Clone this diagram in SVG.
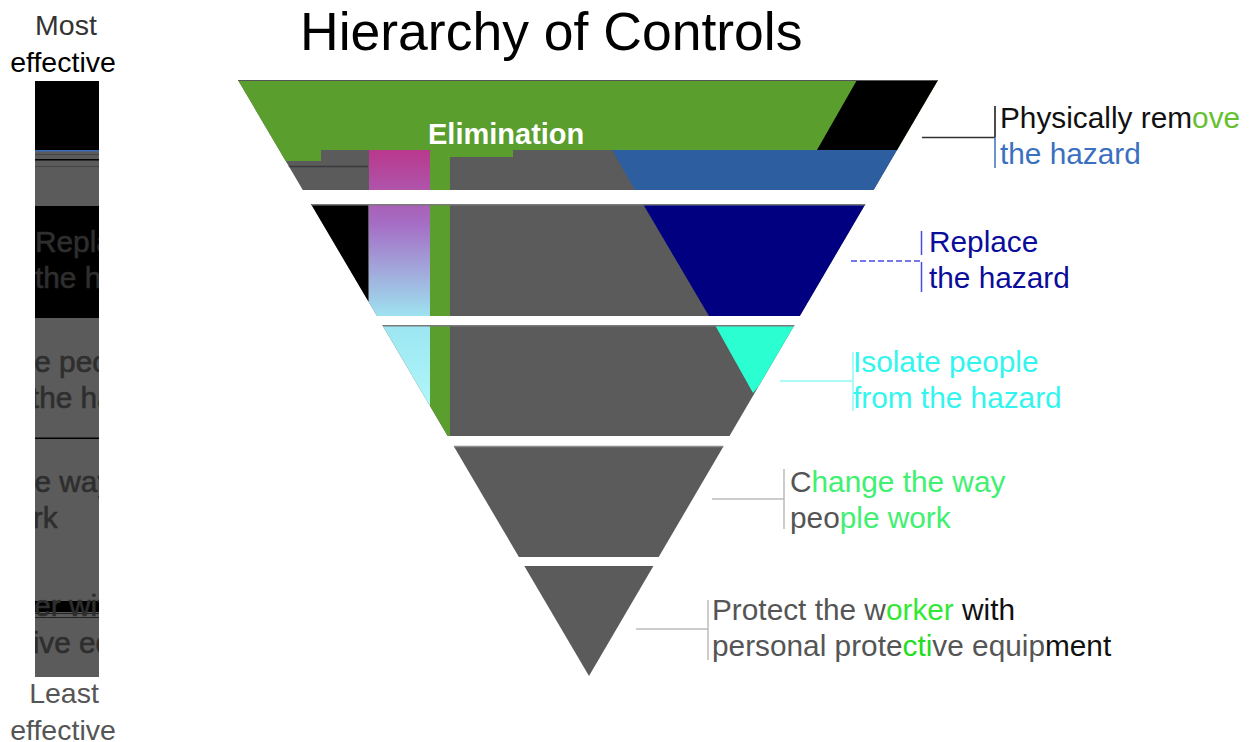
<svg xmlns="http://www.w3.org/2000/svg" width="1250" height="742" viewBox="0 0 1250 742">
<style>
.t{font-family:"Liberation Sans",Arial,sans-serif;font-size:29.8px}
.g{fill:#5b5b5b}
.gr{fill:#5a9e2e}
.ln{fill:none;stroke-width:1.5}
</style>
<defs>
<linearGradient id="pink" gradientUnits="userSpaceOnUse" x1="0" y1="150" x2="0" y2="316">
<stop offset="0" stop-color="#b9388c"/><stop offset="0.45" stop-color="#a56ec6"/><stop offset="1" stop-color="#9ee2f0"/>
</linearGradient>
<linearGradient id="cyan" gradientUnits="userSpaceOnUse" x1="0" y1="325" x2="0" y2="436">
<stop offset="0" stop-color="#9ce6f2"/><stop offset="1" stop-color="#b8fdfd"/>
</linearGradient>
<clipPath id="c1"><polygon points="238,80 938,80 873.6,190 302.8,190"/></clipPath>
<clipPath id="c2"><polygon points="311,204 865.4,204 799.8,316 377,316"/></clipPath>
<clipPath id="c3"><polygon points="382.3,325 794.5,325 729.5,436 447.7,436"/></clipPath>
<clipPath id="cb"><rect x="35" y="81" width="64" height="596"/></clipPath>
</defs>

<g id="title"><text class="t" x="300" y="50" style="font-size:53.5px" fill="#000">Hierarchy of Controls</text></g>

<g id="scale">
<text class="t" x="66" y="35" text-anchor="middle" style="font-size:28.5px" fill="#333">Most</text>
<text class="t" x="63" y="72" text-anchor="middle" style="font-size:28.5px" fill="#000">effective</text>
<g clip-path="url(#cb)">
<rect x="35" y="81" width="64" height="596" class="g"/>
<rect x="35" y="81" width="64" height="69" fill="#000"/>
<rect x="35" y="150" width="64" height="1.5" fill="#3a6ab8"/>
<rect x="35" y="154" width="64" height="1" fill="#444"/>
<rect x="35" y="159" width="64" height="1.5" fill="#000"/>
<rect x="35" y="166" width="64" height="1" fill="#444"/>
<rect x="35" y="206" width="64" height="112" fill="#000"/>
<rect x="35" y="437.5" width="64" height="1.5" fill="#000"/>
<rect x="35" y="601" width="64" height="11" fill="#000"/>
<rect x="35" y="613" width="64" height="1" fill="#222"/>
<rect x="35" y="617" width="64" height="1" fill="#222"/>
<g fill="#2e2e2e" stroke="#2e2e2e" stroke-width="0.6">
<text class="t" x="35" y="252">Replace</text>
<text class="t" x="35" y="288">the hazard</text>
<text class="t" x="-37" y="372">Isolate people</text>
<text class="t" x="-37" y="408">from the hazard</text>
<text class="t" x="-103" y="492">Change the way</text>
<text class="t" x="-103" y="528">people work</text>
<text class="t" x="-181" y="616">Protect the worker with</text>
<text class="t" x="-181" y="653">personal protective equipment</text>
</g>
</g>
<text class="t" x="64" y="703" text-anchor="middle" style="font-size:28.5px" fill="#555">Least</text>
<text class="t" x="63" y="740" text-anchor="middle" style="font-size:28.5px" fill="#555">effective</text>
</g>

<g id="elimination">
<g clip-path="url(#c1)">
<rect x="230" y="80" width="720" height="110" class="g"/>
<rect x="230" y="80" width="720" height="70" class="gr"/>
<rect x="230" y="150" width="91" height="11" class="gr"/>
<rect x="450" y="150" width="63" height="7" class="gr"/>
<line x1="230" y1="166.5" x2="368" y2="166.5" stroke="#3a3a3a" stroke-width="1.5"/>
<polygon points="857,80 950,80 950,150 817,150" fill="#000"/>
<polygon points="612,150 950,150 950,190 635,190" fill="#2d5ea0"/>
<rect x="369" y="150" width="61" height="40" fill="url(#pink)"/>
<rect x="430" y="150" width="20" height="40" class="gr"/>
<rect x="230" y="79" width="720" height="2" fill="#555"/>
</g>
<text class="t" x="428" y="144" style="font-size:29px;font-weight:bold" fill="#fff">Elimination</text>
</g>

<g id="substitution" clip-path="url(#c2)">
<rect x="300" y="204" width="570" height="112" class="g"/>
<rect x="300" y="204" width="68" height="112" fill="#000"/>
<rect x="369" y="204" width="61" height="112" fill="url(#pink)"/>
<rect x="430" y="204" width="20" height="112" class="gr"/>
<polygon points="643,204 900,204 900,316 709,316" fill="#000080"/>
<rect x="300" y="204" width="570" height="1.5" fill="#7a7a7a"/>
</g>

<g id="engineering" clip-path="url(#c3)">
<rect x="380" y="325" width="420" height="111" class="g"/>
<rect x="370" y="325" width="60" height="111" fill="url(#cyan)"/>
<rect x="430" y="325" width="20" height="111" class="gr"/>
<polygon points="715,325 810,325 753,393" fill="#2bffd2"/>
<rect x="380" y="325" width="420" height="1.5" fill="#7a7a7a"/>
</g>

<g id="administrative">
<polygon points="453.6,446 723.7,446 658.7,557 518.9,557" class="g"/>
<line x1="454" y1="446.5" x2="723" y2="446.5" stroke="#8a8a8a" stroke-width="1.5"/>
</g>

<g id="ppe">
<polygon points="524.3,566 653.4,566 589,676" class="g"/>
</g>

<g id="connectors">
<line class="ln" x1="922" y1="137.5" x2="995" y2="137.5" stroke="#333"/>
<line class="ln" x1="995" y1="106" x2="995" y2="137.5" stroke="#111"/>
<line class="ln" x1="995" y1="137.5" x2="995" y2="168" stroke="#3a70bf"/>
<line class="ln" x1="851" y1="261" x2="921" y2="261" stroke="#4a4ce0" stroke-dasharray="6 3"/>
<line class="ln" x1="921.5" y1="231" x2="921.5" y2="255" stroke="#4a4ce0"/>
<line class="ln" x1="921.5" y1="262" x2="921.5" y2="292" stroke="#4a4ce0"/>
<line class="ln" x1="780" y1="381" x2="853" y2="381" stroke="#90fafa"/>
<line class="ln" x1="853" y1="352" x2="853" y2="411" stroke="#90fafa"/>
<line class="ln" x1="712" y1="499" x2="784" y2="499" stroke="#bbb"/>
<line class="ln" x1="784" y1="469" x2="784" y2="529" stroke="#bbb"/>
<line class="ln" x1="636" y1="629" x2="708" y2="629" stroke="#bbb"/>
<line class="ln" x1="708" y1="600" x2="708" y2="660" stroke="#bbb"/>
</g>

<g id="label-elimination">
<text class="t" x="1000" y="128" fill="#111">Physically rem<tspan fill="#66c030">ove</tspan></text>
<text class="t" x="1000" y="164" fill="#3a70bf">the hazard</text>
</g>
<g id="label-substitution" fill="#0c0c9a">
<text class="t" x="929" y="252">Replace</text>
<text class="t" x="929" y="288">the hazard</text>
</g>
<g id="label-engineering" fill="#33f5ee">
<text class="t" x="853" y="372">Isolate people</text>
<text class="t" x="853" y="408">from the hazard</text>
</g>
<g id="label-administrative">
<text class="t" x="790" y="492" fill="#555">C<tspan fill="#40f070">hange the way</tspan></text>
<text class="t" x="790" y="528" fill="#555">peo<tspan fill="#40f070">ple work</tspan></text>
</g>
<g id="label-ppe">
<text class="t" x="712" y="620" fill="#555">Protect the w<tspan fill="#33e833">orker</tspan><tspan fill="#111"> with</tspan></text>
<text class="t" x="712" y="656" fill="#555">personal prote<tspan fill="#22dd22">cti</tspan>ve equip<tspan fill="#111">ment</tspan></text>
</g>
</svg>
